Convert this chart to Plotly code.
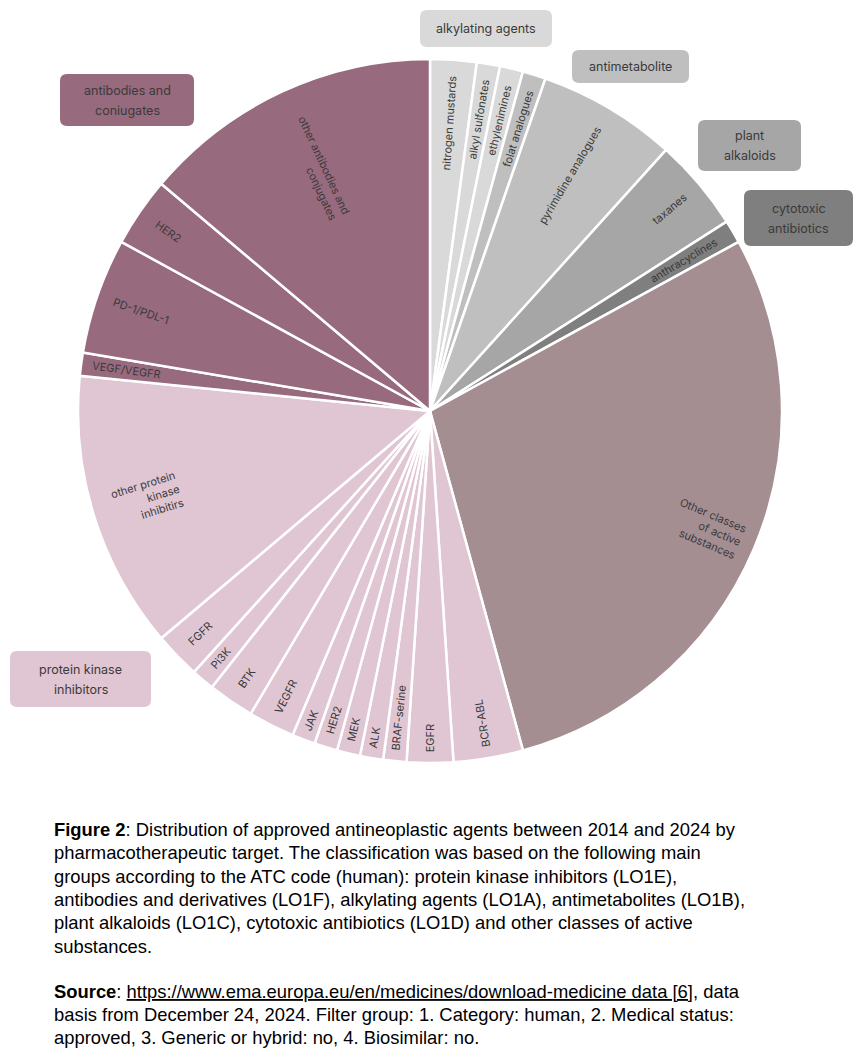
import math
import plotly.graph_objects as go

# ---------------- data ----------------
slice_names = [
    "nitrogen mustards", "alkyl sulfonates", "ethylenimines",
    "folat analogues", "pyrimidine analogues",
    "taxanes",
    "anthracyclines",
    "Other classes<br>of active<br>substances",
    "BCR-ABL", "EGFR", "BRAF-serine", "ALK", "MEK", "HER2", "JAK",
    "VEGFR", "BTK", "Pi3K", "FGFR", "other protein<br>kinase<br>inhibitirs",
    "VEGF/VEGFR", "PD-1/PDL-1", "HER2", "other antibodies and<br>conjugates",
]
slice_groups = [
    "alk", "alk", "alk",
    "met", "met",
    "plant",
    "cyto",
    "other",
    "pki", "pki", "pki", "pki", "pki", "pki", "pki",
    "pki", "pki", "pki", "pki", "pki",
    "ab", "ab", "ab", "ab",
]
slice_counts = [2, 1, 1, 1, 6, 4, 1, 27, 3, 2, 1, 1, 1, 1, 1, 2, 2, 1, 2, 12, 1, 5, 3, 13]

group_keys = ["alk", "met", "plant", "cyto", "other", "pki", "ab"]
group_titles = [["alkylating agents"], ["antimetabolite"], ["plant", "alkaloids"],
                ["cytotoxic", "antibiotics"], None, ["protein kinase", "inhibitors"],
                ["antibodies and", "coniugates"]]

caption_lines = [
    "<b>Figure 2</b>: Distribution of approved antineoplastic agents between 2014 and 2024 by",
    "pharmacotherapeutic target. The classification was based on the following main",
    "groups according to the ATC code (human): protein kinase inhibitors (LO1E),",
    "antibodies and derivatives (LO1F), alkylating agents (LO1A), antimetabolites (LO1B),",
    "plant alkaloids (LO1C), cytotoxic antibiotics (LO1D) and other classes of active",
    "substances.",
    "<b>Source</b>: <u>https://www.ema.europa.eu/en/medicines/download-medicine data [6]</u>, data",
    "basis from December 24, 2024. Filter group: 1. Category: human, 2. Medical status:",
    "approved, 3. Generic or hybrid: no, 4. Biosimilar: no.",
]

# ---------------- styles / layout ----------------
group_colors = {
    "alk": "#d9d9d9", "met": "#bfbfbf", "plant": "#a6a6a6", "cyto": "#7f7f7f",
    "other": "#a48e92", "pki": "#e0c6d3", "ab": "#986a7e",
}
# radial position of each slice label (fraction of radius)
label_radius = [0.82, 0.84, 0.85, 0.84, 0.78, 0.89, 0.84, 0.855,
                0.90, 0.93, 0.875, 0.94, 0.93, 0.92, 0.94, 0.91, 0.92, 0.92, 0.91, 0.84,
                0.87, 0.87, 0.90, 0.76]

W, H = 858, 1054

def px(x):
    return x / W

def py(y):
    return 1 - y / H

# pie placement (pixels): centre (430, 411), radius 352
cx, cy, R = 430, 411, 352

fig = go.Figure()
fig.add_trace(go.Pie(
    labels=[f"{g}:{i}" for i, g in enumerate(slice_groups)],
    values=slice_counts,
    textinfo="none",
    sort=False,
    direction="clockwise",
    rotation=0,
    marker=dict(colors=[group_colors[g] for g in slice_groups],
                line=dict(color="white", width=2.5)),
    hoverinfo="skip",
    showlegend=False,
    domain=dict(x=[px(cx - R), px(cx + R)], y=[py(cy + R), py(cy - R)]),
))

annotations = []
shapes = []

# slice labels, oriented radially at each slice's mid-angle
total = sum(slice_counts)
cum = 0
for name, cnt, rf in zip(slice_names, slice_counts, label_radius):
    theta = (cum + cnt / 2) / total * 360.0
    cum += cnt
    ang = theta - 90 if theta < 150 else theta - 270
    r = rf * R
    x = cx + r * math.sin(math.radians(theta))
    y = cy - r * math.cos(math.radians(theta))
    annotations.append(dict(x=px(x), y=py(y), xref="paper", yref="paper",
                            showarrow=False, xanchor="center", yanchor="middle",
                            text=name, textangle=ang, align="right",
                            font=dict(family="Inter", size=11, color="#3a3a3a")))

# group label boxes (pixel rectangles: x0, y0, x1, y1)
box_rects = {
    "alk": (420, 10, 552, 47),
    "met": (572, 50, 689, 83),
    "plant": (698, 120, 801, 171),
    "cyto": (744, 190, 853, 246),
    "pki": (10, 651, 151, 707),
    "ab": (60, 74, 194, 126),
}

def rounded_path(x0, y0, x1, y1, r=7):
    def P(x, y):
        return f"{px(x):.5f},{py(y):.5f}"
    return " ".join([
        "M " + P(x0 + r, y0), "L " + P(x1 - r, y0),
        "Q " + P(x1, y0) + " " + P(x1, y0 + r), "L " + P(x1, y1 - r),
        "Q " + P(x1, y1) + " " + P(x1 - r, y1), "L " + P(x0 + r, y1),
        "Q " + P(x0, y1) + " " + P(x0, y1 - r), "L " + P(x0, y0 + r),
        "Q " + P(x0, y0) + " " + P(x0 + r, y0), "Z"])

box_line_gap = 20
for key, title in zip(group_keys, group_titles):
    if title is None:
        continue
    x0, y0, x1, y1 = box_rects[key]
    shapes.append(dict(type="path", xref="paper", yref="paper",
                       path=rounded_path(x0, y0, x1, y1),
                       fillcolor=group_colors[key], line=dict(width=0)))
    n = len(title)
    for k, line in enumerate(title):
        yy = (y0 + y1) / 2 + (k - (n - 1) / 2) * box_line_gap
        annotations.append(dict(x=px((x0 + x1) / 2), y=py(yy),
                                xref="paper", yref="paper", showarrow=False,
                                xanchor="center", yanchor="middle",
                                text=line, align="center",
                                font=dict(family="Inter", size=12.5, color="#3a3a3a")))

caption_y = [829, 852, 876, 899, 922, 946, 991, 1014, 1037]
for t, yy in zip(caption_lines, caption_y):
    annotations.append(dict(x=px(52), y=py(yy), xref="paper", yref="paper",
                            showarrow=False, xanchor="left", yanchor="middle",
                            text=t, align="left",
                            font=dict(family="Liberation Sans", size=18.4, color="#000000")))

fig.update_layout(
    width=W, height=H,
    margin=dict(l=0, r=0, t=0, b=0),
    paper_bgcolor="white", plot_bgcolor="white",
    shapes=shapes, annotations=annotations,
)

fig.write_html("out.html", config={"displayModeBar": False},
               post_script="document.body.style.margin='0';document.body.style.overflow='hidden';")
